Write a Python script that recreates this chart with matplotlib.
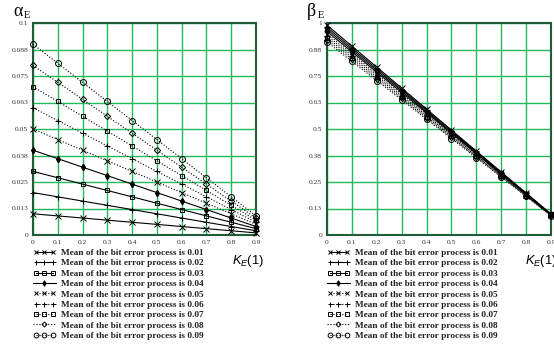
import matplotlib as mpl
import matplotlib.pyplot as plt
from matplotlib.legend_handler import HandlerLine2D

mpl.use("Agg")

plt.rcParams["mathtext.fontset"] = "custom"
plt.rcParams["mathtext.rm"] = "Liberation Sans"
plt.rcParams["mathtext.it"] = "Liberation Sans:italic"

# K_E(1) axis
k_values = [0.0, 0.1, 0.2, 0.3, 0.4, 0.5, 0.6, 0.7, 0.8, 0.9]
means = ["0.01", "0.02", "0.03", "0.04", "0.05", "0.06", "0.07", "0.08", "0.09"]

# alpha_E
alpha_001 = [0.010, 0.009, 0.008, 0.007, 0.006, 0.005, 0.004, 0.003, 0.002, 0.001]
alpha_002 = [0.020, 0.018, 0.016, 0.014, 0.012, 0.010, 0.008, 0.006, 0.004, 0.002]
alpha_003 = [0.030, 0.027, 0.024, 0.021, 0.018, 0.015, 0.012, 0.009, 0.006, 0.003]
alpha_004 = [0.040, 0.036, 0.032, 0.028, 0.024, 0.020, 0.016, 0.012, 0.008, 0.004]
alpha_005 = [0.050, 0.045, 0.040, 0.035, 0.030, 0.025, 0.020, 0.015, 0.010, 0.005]
alpha_006 = [0.060, 0.054, 0.048, 0.042, 0.036, 0.030, 0.024, 0.018, 0.012, 0.006]
alpha_007 = [0.070, 0.063, 0.056, 0.049, 0.042, 0.035, 0.028, 0.021, 0.014, 0.007]
alpha_008 = [0.080, 0.072, 0.064, 0.056, 0.048, 0.040, 0.032, 0.024, 0.016, 0.008]
alpha_009 = [0.090, 0.081, 0.072, 0.063, 0.054, 0.045, 0.036, 0.027, 0.018, 0.009]

# beta_E
beta_001 = [0.990, 0.891, 0.792, 0.693, 0.594, 0.495, 0.396, 0.297, 0.198, 0.099]
beta_002 = [0.980, 0.882, 0.784, 0.686, 0.588, 0.490, 0.392, 0.294, 0.196, 0.098]
beta_003 = [0.970, 0.873, 0.776, 0.679, 0.582, 0.485, 0.388, 0.291, 0.194, 0.097]
beta_004 = [0.960, 0.864, 0.768, 0.672, 0.576, 0.480, 0.384, 0.288, 0.192, 0.096]
beta_005 = [0.950, 0.855, 0.760, 0.665, 0.570, 0.475, 0.380, 0.285, 0.190, 0.095]
beta_006 = [0.940, 0.846, 0.752, 0.658, 0.564, 0.470, 0.376, 0.282, 0.188, 0.094]
beta_007 = [0.930, 0.837, 0.744, 0.651, 0.558, 0.465, 0.372, 0.279, 0.186, 0.093]
beta_008 = [0.920, 0.828, 0.736, 0.644, 0.552, 0.460, 0.368, 0.276, 0.184, 0.092]
beta_009 = [0.910, 0.819, 0.728, 0.637, 0.546, 0.455, 0.364, 0.273, 0.182, 0.091]

alpha_series = [alpha_001, alpha_002, alpha_003, alpha_004, alpha_005,
                alpha_006, alpha_007, alpha_008, alpha_009]
beta_series = [beta_001, beta_002, beta_003, beta_004, beta_005,
               beta_006, beta_007, beta_008, beta_009]

alpha_ticks = [0, 0.0125, 0.025, 0.0375, 0.05, 0.0625, 0.075, 0.0875, 0.1]
alpha_labels = ["0", "0.013", "0.025", "0.038", "0.05", "0.063", "0.075", "0.088", "0.1"]
beta_ticks = [0, 0.125, 0.25, 0.375, 0.5, 0.625, 0.75, 0.875, 1.0]
beta_labels = ["0", "0.13", "0.25", "0.38", "0.5", "0.63", "0.75", "0.88", "1"]
x_labels = ["0", "0.1", "0.2", "0.3", "0.4", "0.5", "0.6", "0.7", "0.8", "0.9"]

# (linestyle, marker, size, filled, legend points)
styles = [
    ("-", "x", 4, True, 3),
    ("-", "+", 4.5, True, 3),
    ("-", "s", 3.5, False, 3),
    ("-", "d", 3.5, True, 1),
    (":", "x", 4, True, 3),
    (":", "+", 4.5, True, 3),
    (":", "s", 3.5, False, 3),
    (":", "D", 3.2, False, 1),
    (":", "o", 4.3, False, 3),
]

GRID = "#22b85c"
SPINE = "#1f5c37"
W, H = 554, 346


def make_panel(fig, rect, series, yticks, ylabels, sym, sym_x, kx):
    ax = fig.add_axes(rect)
    handles = []
    handler = {}
    for vals, (ls, mk, ms, filled, npts), m in zip(series, styles, means):
        line, = ax.plot(
            k_values, vals, color="black", linestyle=ls, linewidth=0.8,
            marker=mk, markersize=ms, markeredgewidth=0.7,
            markerfacecolor="black" if filled else "none",
            markeredgecolor="black",
            label=f"Mean of the bit error process is {m}",
            clip_on=False, zorder=3,
        )
        handles.append(line)
        handler[line] = HandlerLine2D(numpoints=npts)

    ax.set_xlim(0, 0.9)
    ax.set_ylim(0, yticks[-1])
    ax.set_xticks(k_values)
    ax.set_xticklabels(x_labels)
    ax.set_yticks(yticks)
    ax.set_yticklabels(ylabels)
    ax.tick_params(length=0, pad=3.5, labelsize=5.4, labelcolor="#333333")
    for lab in ax.get_xticklabels() + ax.get_yticklabels():
        lab.set_fontfamily("Liberation Serif")
    ax.grid(True, color=GRID, linewidth=1.0)
    ax.set_axisbelow(True)
    for sp in ax.spines.values():
        sp.set_color(SPINE)
        sp.set_linewidth(1.5)

    leg = ax.legend(
        handles=handles, handler_map=handler, loc="upper left",
        bbox_to_anchor=(rect[0], 1 - 248.5 / H),
        bbox_transform=fig.transFigure, frameon=False,
        handlelength=2.45, handletextpad=0.55, labelspacing=0.2,
        borderaxespad=0, borderpad=0, markerscale=0.8,
        prop={"family": "Liberation Serif", "weight": "bold", "size": 6.7},
    )
    for t in leg.get_texts():
        t.set_color("#222222")

    # symbol above the y axis, e.g. alpha_E
    fig.text(sym_x / W, 1 - 16.5 / H, sym, fontfamily="Liberation Serif",
             fontsize=13, va="baseline", ha="left")
    fig.text((sym_x + 11) / W, 1 - 17.5 / H, "E", fontfamily="Liberation Serif",
             fontsize=7.5, va="baseline", ha="left")
    # x axis name
    fig.text(kx / W, 1 - 261 / H, r"$K_E\mathrm{(1)}$", fontsize=9.3,
             va="center", ha="left")
    return ax


fig = plt.figure(figsize=(W / 100, H / 100), dpi=100)
make_panel(fig, [33 / W, 1 - 235 / H, 223 / W, 212 / H], alpha_series,
           alpha_ticks, alpha_labels, "α", 13, 232)
make_panel(fig, [327 / W, 1 - 235 / H, 224 / W, 212 / H], beta_series,
           beta_ticks, beta_labels, "β", 307, 525)

plt.savefig("out.png", dpi=100)
